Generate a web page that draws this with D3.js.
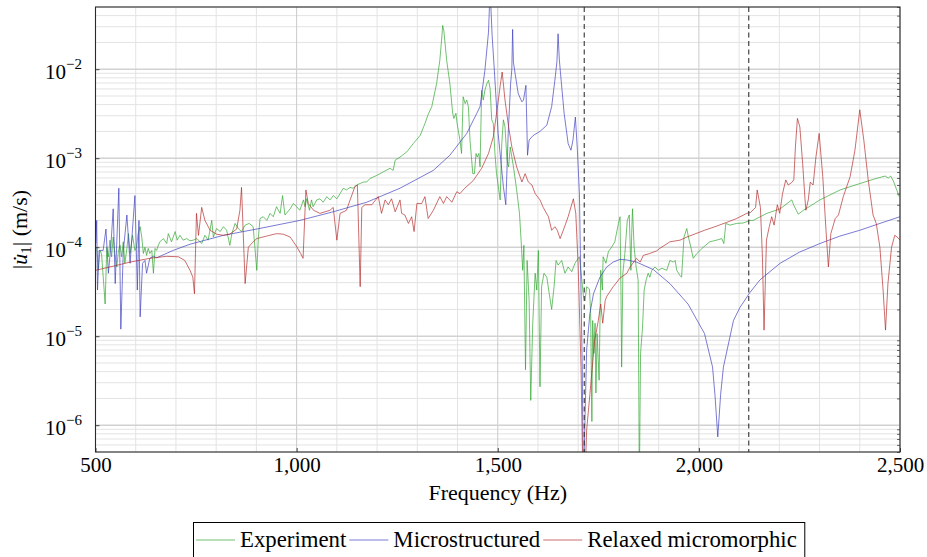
<!DOCTYPE html>
<html>
<head>
<meta charset="utf-8">
<script src="https://cdn.jsdelivr.net/npm/d3@7"></script>
<style>
  body { margin: 0; background: #fff; }
  svg text { font-family: "Liberation Serif", "DejaVu Serif", serif; fill: #000; }
</style>
</head>
<body>
<svg id="chart" width="927" height="557"></svg>
<script>
// [frequency (Hz), |u1'| (m/s)]
const experiment = [
	[503,1.0e-4],[507,5.5e-5],[511,9.2e-5],[515,8.5e-5],[524,2.3e-5],[528,1.0e-4],[532,7.8e-5],[536,1.2e-4],
	[540,7.8e-5],[544,1.3e-4],[548,8.5e-5],[553,6.0e-5],[557,9.2e-5],[561,1.05e-4],[565,7.8e-5],[569,1.15e-4],
	[573,6.6e-5],[578,9.7e-5],[582,1.42e-4],[586,8.5e-5],[592,1.36e-4],[598,9.2e-5],[602,1.0e-4],[606,1.42e-4],
	[611,1.7e-4],[615,1.3e-4],[619,8.5e-5],[623,1.0e-4],[627,8.1e-5],[631,9.7e-5],[635,8.5e-5],[640,9.2e-5],
	[644,5.1e-5],[648,9.7e-5],[652,9.2e-5],[656,1.05e-4],[660,1.15e-4],[669,1.25e-4],[677,1.1e-4],[681,1.42e-4],
	[689,1.15e-4],[698,1.5e-4],[703,1.2e-4],[710,1.36e-4],[718,1.2e-4],[727,1.25e-4],[735,1.18e-4],[743,1.2e-4],
	[752,1.25e-4],[764,1.1e-4],[772,1.36e-4],[780,1.2e-4],[789,2.0e-4],[793,1.3e-4],[801,1.62e-4],[810,1.5e-4],
	[818,1.7e-4],[826,1.55e-4],[834,1.05e-4],[839,1.42e-4],[847,1.85e-4],[855,1.62e-4],[863,1.5e-4],[872,1.77e-4],
	[882,1.85e-4],[892,1.7e-4],[901,5.5e-5],[905,1.3e-4],[909,2.1e-4],[917,2.2e-4],[926,2.0e-4],[934,2.4e-4],
	[942,2.2e-4],[950,2.85e-4],[959,2.4e-4],[965,3.8e-4],[971,2.3e-4],[984,2.7e-4],[992,3.1e-4],[1000,2.85e-4],
	[1008,2.6e-4],[1017,3.4e-4],[1021,2.85e-4],[1025,3.5e-4],[1032,2.6e-4],[1037,3.4e-4],[1041,2.85e-4],[1050,3.4e-4],
	[1058,3.5e-4],[1066,3.2e-4],[1075,3.7e-4],[1083,3.4e-4],[1091,3.8e-4],[1100,3.5e-4],[1108,4.0e-4],[1116,4.6e-4],
	[1124,4.4e-4],[1133,4.7e-4],[1141,4.6e-4],[1149,5.0e-4],[1158,5.2e-4],[1166,5.4e-4],[1174,5.4e-4],[1182,5.9e-4],
	[1199,6.4e-4],[1215,7.0e-4],[1232,7.7e-4],[1240,7.3e-4],[1245,9.5e-4],[1257,1.03e-3],[1274,1.18e-3],[1290,1.46e-3],
	[1307,1.8e-3],[1319,2.45e-3],[1327,3.1e-3],[1336,3.8e-3],[1348,6.9e-3],[1356,1.26e-2],[1361,2.3e-2],[1363,3.1e-2],
	[1366,2.7e-2],[1373,1.26e-2],[1381,6.9e-3],[1388,3.2e-3],[1391,2.8e-3],[1396,3.2e-3],[1399,2.45e-3],[1406,1.6e-3],
	[1410,1.13e-3],[1414,4.9e-3],[1419,4.1e-3],[1423,4.5e-3],[1427,3.8e-3],[1431,1.6e-3],[1438,6.7e-4],[1442,6.7e-4],
	[1446,1.13e-3],[1449,1.03e-3],[1453,1.13e-3],[1456,8.0e-4],[1460,5.8e-3],[1464,4.5e-3],[1468,5.8e-3],[1473,6.9e-3],
	[1477,7.5e-3],[1481,6.1e-3],[1485,2.7e-3],[1489,2.45e-3],[1493,1.13e-3],[1497,6.7e-4],[1506,3.4e-4],[1510,1.46e-3],
	[1514,2.7e-3],[1518,2.25e-3],[1523,9.5e-4],[1527,8.0e-4],[1531,1.34e-3],[1535,1.03e-3],[1539,8.0e-4],[1547,4.4e-4],
	[1554,2.4e-4],[1558,1.2e-4],[1562,5.5e-5],[1565,1.05e-4],[1569,4.2e-6],[1573,7.1e-5],[1578,2.5e-5],[1582,1.9e-6],
	[1587,1.4e-5],[1593,5.1e-5],[1597,3.3e-5],[1601,9.2e-5],[1605,2.7e-6],[1609,3.6e-5],[1615,5.1e-5],[1622,4.6e-5],
	[1628,3.0e-5],[1634,2.0e-5],[1640,3.6e-5],[1645,7.1e-5],[1650,6.3e-5],[1659,7.1e-5],[1667,5.1e-5],[1675,6.0e-5],
	[1684,5.3e-5],[1692,6.6e-5],[1700,7.5e-5],[1703,7.8e-5],[1709,4.3e-5],[1713,2.8e-5],[1717,2.5e-5],[1721,3.6e-5],
	[1728,3.4e-5],[1731,1.8e-5],[1734,1.1e-6],[1736,1.5e-5],[1739,6.4e-6],[1742,1.4e-5],[1744,2.3e-6],[1747,1.07e-5],
	[1752,3.2e-6],[1756,5.5e-5],[1760,3.3e-5],[1762,7.8e-5],[1769,6.6e-5],[1775,8.9e-5],[1783,1.0e-4],[1791,1.15e-4],
	[1800,1.85e-4],[1804,2.2e-4],[1806,4.3e-5],[1808,4.5e-6],[1811,5.1e-5],[1816,8.5e-5],[1822,2.0e-4],[1827,2.3e-4],
	[1831,5.5e-5],[1833,1.42e-4],[1835,2.7e-4],[1839,1.0e-4],[1844,6.0e-5],[1849,4.3e-5],[1852,2.0e-7],[1855,6.4e-6],
	[1860,1.27e-5],[1864,3.3e-5],[1869,4.3e-5],[1874,5.1e-5],[1878,4.6e-5],[1883,5.5e-5],[1891,6.0e-5],[1899,5.5e-5],
	[1908,5.8e-5],[1920,5.5e-5],[1928,7.1e-5],[1937,6.8e-5],[1941,7.1e-5],[1945,5.5e-5],[1953,4.8e-5],[1957,4.6e-5],
	[1963,1.3e-4],[1970,1.62e-4],[1974,1.3e-4],[1980,1.0e-4],[1986,7.5e-5],[1995,8.5e-5],[2011,1.0e-4],[2027,1.15e-4],
	[2044,1.2e-4],[2057,1.25e-4],[2062,1.1e-4],[2067,1.85e-4],[2077,1.77e-4],[2094,1.85e-4],[2110,1.87e-4],[2127,2.0e-4],
	[2135,2.0e-4],[2169,2.4e-4],[2202,2.7e-4],[2231,3.4e-4],[2236,2.96e-4],[2247,2.35e-4],[2260,2.6e-4],[2301,3.4e-4],
	[2351,4.4e-4],[2401,5.2e-4],[2434,5.8e-4],[2463,6.3e-4],[2471,6.0e-4],[2477,6.3e-4],[2483,5.6e-4],[2492,4.4e-4],
	[2498,3.7e-4]
];

const microstructured = [
	[501,1.1e-4],[503,2.0e-4],[505,3.3e-5],[509,9.2e-5],[519,9.2e-5],[526,1.6e-4],[532,5.1e-5],[538,1.0e-4],
	[544,2.7e-4],[549,3.9e-5],[558,4.6e-4],[563,1.2e-5],[569,8.9e-5],[578,2.3e-4],[586,6.6e-5],[598,3.8e-4],
	[604,3.3e-5],[608,2.0e-4],[611,1.65e-5],[617,6.6e-5],[623,7.1e-5],[627,5.1e-5],[635,7.5e-5],[644,7.9e-5],
	[652,7.6e-5],[693,9.2e-5],[735,1.08e-4],[818,1.36e-4],[901,1.6e-4],[1008,2.0e-4],[1091,2.5e-4],[1174,3.2e-4],
	[1257,4.6e-4],[1340,7.3e-4],[1381,1.08e-3],[1423,1.9e-3],[1448,3.2e-3],[1456,3.8e-3],[1468,9.7e-3],[1477,2.6e-2],
	[1481,8.0e-2],[1486,2.4e-2],[1491,1.06e-2],[1501,1.9e-3],[1514,4.8e-4],[1520,3.0e-4],[1526,1.9e-3],[1532,6.9e-3],
	[1535,1.0e-2],[1537,2.8e-2],[1539,1.2e-2],[1543,9.0e-3],[1551,5.3e-3],[1560,4.3e-3],[1564,4.5e-3],[1570,6.6e-3],
	[1574,1.08e-3],[1578,1.6e-3],[1588,1.8e-3],[1605,2.0e-3],[1622,2.35e-3],[1634,3.8e-3],[1642,7.5e-3],[1647,1.2e-2],
	[1650,2.5e-2],[1653,1.3e-2],[1656,9.0e-3],[1665,3.2e-3],[1675,1.46e-3],[1682,1.23e-3],[1687,1.6e-3],[1693,2.9e-3],
	[1698,1.23e-3],[1703,4.0e-4],[1706,6.0e-5],[1710,4.5e-6],[1713,2.0e-7],[1717,1.24e-6],[1721,7.0e-6],[1729,1.8e-5],
	[1738,3.0e-5],[1754,4.6e-5],[1771,6.0e-5],[1787,6.8e-5],[1804,7.3e-5],[1820,7.2e-5],[1845,6.8e-5],[1887,5.6e-5],
	[1928,3.9e-5],[1973,2.3e-5],[2014,1.07e-5],[2034,4.5e-6],[2040,2.2e-6],[2047,7.4e-7],[2054,2.2e-6],[2061,4.5e-6],
	[2086,1.5e-5],[2102,2.1e-5],[2127,3.1e-5],[2152,4.3e-5],[2202,6.6e-5],[2250,8.8e-5],[2301,1.1e-4],[2350,1.33e-4],
	[2400,1.55e-4],[2450,1.85e-4],[2500,2.2e-4]
];

const relaxed = [
	[500,5.5e-5],[536,6.0e-5],[586,6.8e-5],[635,7.5e-5],[677,7.9e-5],[706,7.8e-5],[722,7.1e-5],[735,5.5e-5],
	[742,4.6e-5],[746,3.0e-5],[751,2.4e-4],[756,1.36e-4],[764,2.8e-4],[772,2.0e-4],[785,1.55e-4],[801,1.4e-4],
	[818,1.36e-4],[834,1.4e-4],[851,1.6e-4],[859,2.6e-4],[863,4.7e-4],[872,3.9e-5],[880,1.0e-4],[892,1.15e-4],
	[901,1.25e-4],[930,1.35e-4],[950,1.42e-4],[967,1.4e-4],[984,1.3e-4],[992,1.15e-4],[1001,1.0e-4],[1010,8.5e-5],
	[1016,7.5e-5],[1023,4.4e-4],[1029,3.1e-4],[1042,2.6e-4],[1058,2.4e-4],[1083,2.6e-4],[1091,2.8e-4],[1100,1.2e-4],
	[1108,2.4e-4],[1124,2.6e-4],[1133,3.4e-4],[1145,4.8e-4],[1151,5.0e-4],[1158,3.6e-5],[1162,2.8e-4],[1170,3.0e-4],
	[1187,3.0e-4],[1203,3.7e-4],[1211,2.4e-4],[1220,3.4e-4],[1228,3.0e-4],[1236,3.5e-4],[1245,2.5e-4],[1257,3.4e-4],
	[1261,2.4e-4],[1269,2.3e-4],[1278,1.85e-4],[1286,2.2e-4],[1292,1.5e-4],[1299,3.1e-4],[1311,3.1e-4],[1319,3.7e-4],
	[1327,2.1e-4],[1340,2.6e-4],[1356,3.7e-4],[1365,3.1e-4],[1373,3.7e-4],[1386,3.2e-4],[1398,4.2e-4],[1406,4.0e-4],
	[1418,4.6e-4],[1439,5.6e-4],[1460,7.7e-4],[1477,1.13e-3],[1489,1.74e-3],[1500,4.0e-3],[1506,6.5e-3],[1511,9.3e-3],
	[1518,4.5e-3],[1527,2.25e-3],[1535,1.34e-3],[1547,8.0e-4],[1560,5.4e-4],[1568,6.7e-4],[1576,5.4e-4],[1585,5.0e-4],
	[1593,4.0e-4],[1605,3.4e-4],[1613,2.8e-4],[1626,2.2e-4],[1634,1.55e-4],[1642,1.7e-4],[1648,1.55e-4],[1655,1.25e-4],
	[1663,1.55e-4],[1675,2.2e-4],[1688,3.5e-4],[1694,2.4e-4],[1700,6.0e-5],[1707,4.5e-6],[1712,2.0e-7],[1716,2.0e-7],
	[1721,8.8e-7],[1729,2.2e-6],[1741,9.0e-6],[1750,1.5e-5],[1756,2.3e-5],[1761,1.4e-5],[1767,2.5e-5],[1771,2.8e-5],
	[1787,3.6e-5],[1804,4.5e-5],[1821,5.1e-5],[1829,6.0e-5],[1845,7.5e-5],[1854,6.8e-5],[1862,8.1e-5],[1878,8.5e-5],
	[1895,9.1e-5],[1903,9.7e-5],[1928,1.15e-4],[1953,1.2e-4],[1970,1.3e-4],[2014,1.55e-4],[2040,1.7e-4],[2069,1.9e-4],
	[2094,2.1e-4],[2119,2.4e-4],[2128,2.45e-4],[2141,2.8e-4],[2145,4.4e-4],[2153,2.8e-4],[2158,7.8e-5],[2162,1.17e-5],
	[2168,1.2e-4],[2175,1.7e-4],[2181,2.2e-4],[2187,1.77e-4],[2195,3.0e-4],[2201,2.4e-4],[2208,4.0e-4],[2216,5.7e-4],
	[2222,5.0e-4],[2230,5.3e-4],[2236,5.7e-4],[2240,1.34e-3],[2245,2.8e-3],[2251,2.25e-3],[2258,8.7e-4],[2264,3.4e-4],
	[2266,2.6e-4],[2272,3.4e-4],[2277,5.4e-4],[2284,5.0e-4],[2291,1.03e-3],[2299,1.9e-3],[2308,6.2e-4],[2316,1.55e-4],
	[2322,6.0e-5],[2328,1.42e-4],[2339,2.1e-4],[2347,2.3e-4],[2359,3.7e-4],[2376,6.2e-4],[2388,1.23e-3],[2400,3.5e-3],
	[2410,1.6e-3],[2421,5.7e-4],[2433,2.3e-4],[2441,1.85e-4],[2450,1.0e-4],[2458,3.3e-5],[2464,1.17e-5],[2470,3.9e-5],
	[2479,1.0e-4],[2487,1.36e-4],[2493,1.3e-4],[2500,1.2e-4]
];

const dashedFreqs = [1715, 2124];
const xTickValues = [500, 1000, 1500, 2000, 2500];
const xTickLabels = ['500', '1,000', '1,500', '2,000', '2,500'];
const yTickValues = [1e-2, 1e-3, 1e-4, 1e-5, 1e-6];
const yTickExponents = ['\u22122', '\u22123', '\u22124', '\u22125', '\u22126'];
const seriesNames = ['Experiment', 'Microstructured', 'Relaxed micromorphic'];
const seriesColors = ['rgb(45,165,45)', 'rgb(60,60,190)', 'rgb(180,40,40)'];

const WIDTH = 927;
const HEIGHT = 557;
const margin = { top: 7, right: 27, bottom: 105, left: 95.5 };
const plotBottom = HEIGHT - margin.bottom;
const plotRight = WIDTH - margin.right;
const FONT = '"Liberation Serif", "DejaVu Serif", serif';

const x = d3.scaleLinear().domain([500, 2500]).range([margin.left, plotRight]);
const y = d3.scaleLog().domain([5e-7, 5e-2]).range([plotBottom, margin.top]);

const svg = d3.select('#chart').style('font-family', FONT);

svg.append('defs').append('clipPath')
	.attr('id', 'plot-clip')
	.append('rect')
	.attr('x', margin.left)
	.attr('y', margin.top)
	.attr('width', plotRight - margin.left)
	.attr('height', plotBottom - margin.top);

// Grid: minor first, major on top
const isDecade = v => Math.abs(Math.log10(v) - Math.round(Math.log10(v))) < 1e-9;
const yGridMinor = y.ticks().filter(v => !isDecade(v));
const xGridMinor = d3.range(500, 2501, 100).filter(v => !xTickValues.includes(v));

const grid = svg.append('g');

grid.selectAll('.vminor')
	.data(xGridMinor)
	.enter()
	.append('line')
	.attr('x1', d => x(d)).attr('x2', d => x(d))
	.attr('y1', margin.top).attr('y2', plotBottom)
	.attr('stroke', '#e3e3e3')
	.attr('stroke-width', 1);

grid.selectAll('.hminor')
	.data(yGridMinor)
	.enter()
	.append('line')
	.attr('x1', margin.left).attr('x2', plotRight)
	.attr('y1', d => y(d)).attr('y2', d => y(d))
	.attr('stroke', '#e3e3e3')
	.attr('stroke-width', 1);

grid.selectAll('.vmajor')
	.data(xTickValues)
	.enter()
	.append('line')
	.attr('x1', d => x(d)).attr('x2', d => x(d))
	.attr('y1', margin.top).attr('y2', plotBottom)
	.attr('stroke', '#cacaca')
	.attr('stroke-width', 1);

grid.selectAll('.hmajor')
	.data(yTickValues)
	.enter()
	.append('line')
	.attr('x1', margin.left).attr('x2', plotRight)
	.attr('y1', d => y(d)).attr('y2', d => y(d))
	.attr('stroke', '#d2d2d2')
	.attr('stroke-width', 1.6);

// Curves
const line = d3.line()
	.x(d => x(d[0]))
	.y(d => y(d[1]));

const curves = svg.append('g').attr('clip-path', 'url(#plot-clip)');

[experiment, microstructured, relaxed].forEach((series, i) => {
	curves.append('path')
		.datum(series)
		.attr('d', line)
		.attr('fill', 'none')
		.attr('stroke', seriesColors[i])
		.attr('stroke-width', 0.8)
		.attr('stroke-opacity', 0.85)
		.attr('stroke-linejoin', 'round');
});

// Dashed markers
svg.selectAll('.marker')
	.data(dashedFreqs)
	.enter()
	.append('line')
	.attr('x1', d => x(d)).attr('x2', d => x(d))
	.attr('y1', margin.top).attr('y2', plotBottom)
	.attr('stroke', '#333')
	.attr('stroke-width', 1.1)
	.attr('stroke-dasharray', '5,3.5');

// Axes
const xAxis = svg.append('g')
	.attr('transform', 'translate(0,' + plotBottom + ')')
	.call(d3.axisBottom(x)
		.tickValues(xTickValues)
		.tickFormat((d, i) => xTickLabels[i])
		.tickSizeInner(-4)
		.tickSizeOuter(0));
xAxis.attr('font-family', null);
xAxis.select('.domain').remove();
xAxis.selectAll('line').attr('stroke', '#444');
xAxis.selectAll('text')
	.attr('y', 20)
	.attr('dy', 0)
	.attr('font-size', 21);

const yAxis = svg.append('g')
	.attr('transform', 'translate(' + margin.left + ',0)')
	.call(d3.axisLeft(y)
		.tickValues(yTickValues)
		.tickFormat(() => '')
		.tickSizeInner(-4)
		.tickSizeOuter(0));
yAxis.attr('font-family', null);
yAxis.select('.domain').remove();
yAxis.selectAll('line').attr('stroke', '#444');
yAxis.selectAll('.tick text').each(function(d, i) {
	const t = d3.select(this)
		.attr('x', -13.5)
		.attr('y', 8.8)
		.attr('dy', 0)
		.attr('font-size', 21);
	t.append('tspan').text('10');
	t.append('tspan').attr('dy', -9.5).attr('font-size', 15).text(yTickExponents[i]);
});

// Minor ticks on the right side
svg.append('g')
	.attr('transform', 'translate(' + plotRight + ',0)')
	.call(d3.axisRight(y).tickValues(yGridMinor).tickFormat(() => '').tickSizeInner(-3).tickSizeOuter(0))
	.call(g => g.select('.domain').remove())
	.selectAll('line').attr('stroke', '#666');

// Axis frame
svg.append('rect')
	.attr('x', margin.left)
	.attr('y', margin.top)
	.attr('width', plotRight - margin.left)
	.attr('height', plotBottom - margin.top)
	.attr('fill', 'none')
	.attr('stroke', '#2a2a2a')
	.attr('stroke-width', 1.1);

// Axis titles
svg.append('text')
	.attr('x', (margin.left + plotRight) / 2)
	.attr('y', 500)
	.attr('text-anchor', 'middle')
	.attr('font-size', 22)
	.text('Frequency (Hz)');

const yTitle = svg.append('text')
	.attr('transform', 'translate(27,' + ((margin.top + plotBottom) / 2) + ') rotate(-90)')
	.attr('text-anchor', 'middle')
	.attr('font-size', 22);
yTitle.append('tspan').text('|');
yTitle.append('tspan').attr('font-style', 'italic').text('u\u0307');
yTitle.append('tspan').attr('font-size', 15).attr('dy', 4).text('1');
yTitle.append('tspan').attr('dy', -4).text('| (m/s)');

// Legend
const legend = svg.append('g');
const legendBox = legend.append('rect')
	.attr('x', 193.5)
	.attr('y', 522.5)
	.attr('height', 45)
	.attr('fill', '#fff')
	.attr('stroke', '#000')
	.attr('stroke-width', 1);

let cursor = 196;
seriesNames.forEach((name, i) => {
	legend.append('line')
		.attr('x1', cursor).attr('x2', cursor + 39)
		.attr('y1', 540).attr('y2', 540)
		.attr('stroke', seriesColors[i])
		.attr('stroke-width', 0.8)
		.attr('stroke-opacity', 0.85);
	const label = legend.append('text')
		.attr('x', cursor + 44)
		.attr('y', 547)
		.attr('font-size', 22.8)
		.text(name);
	cursor = cursor + 44 + label.node().getComputedTextLength() + 3;
});
legendBox.attr('width', cursor + 5 - 193.5);
</script>
</body>
</html>
